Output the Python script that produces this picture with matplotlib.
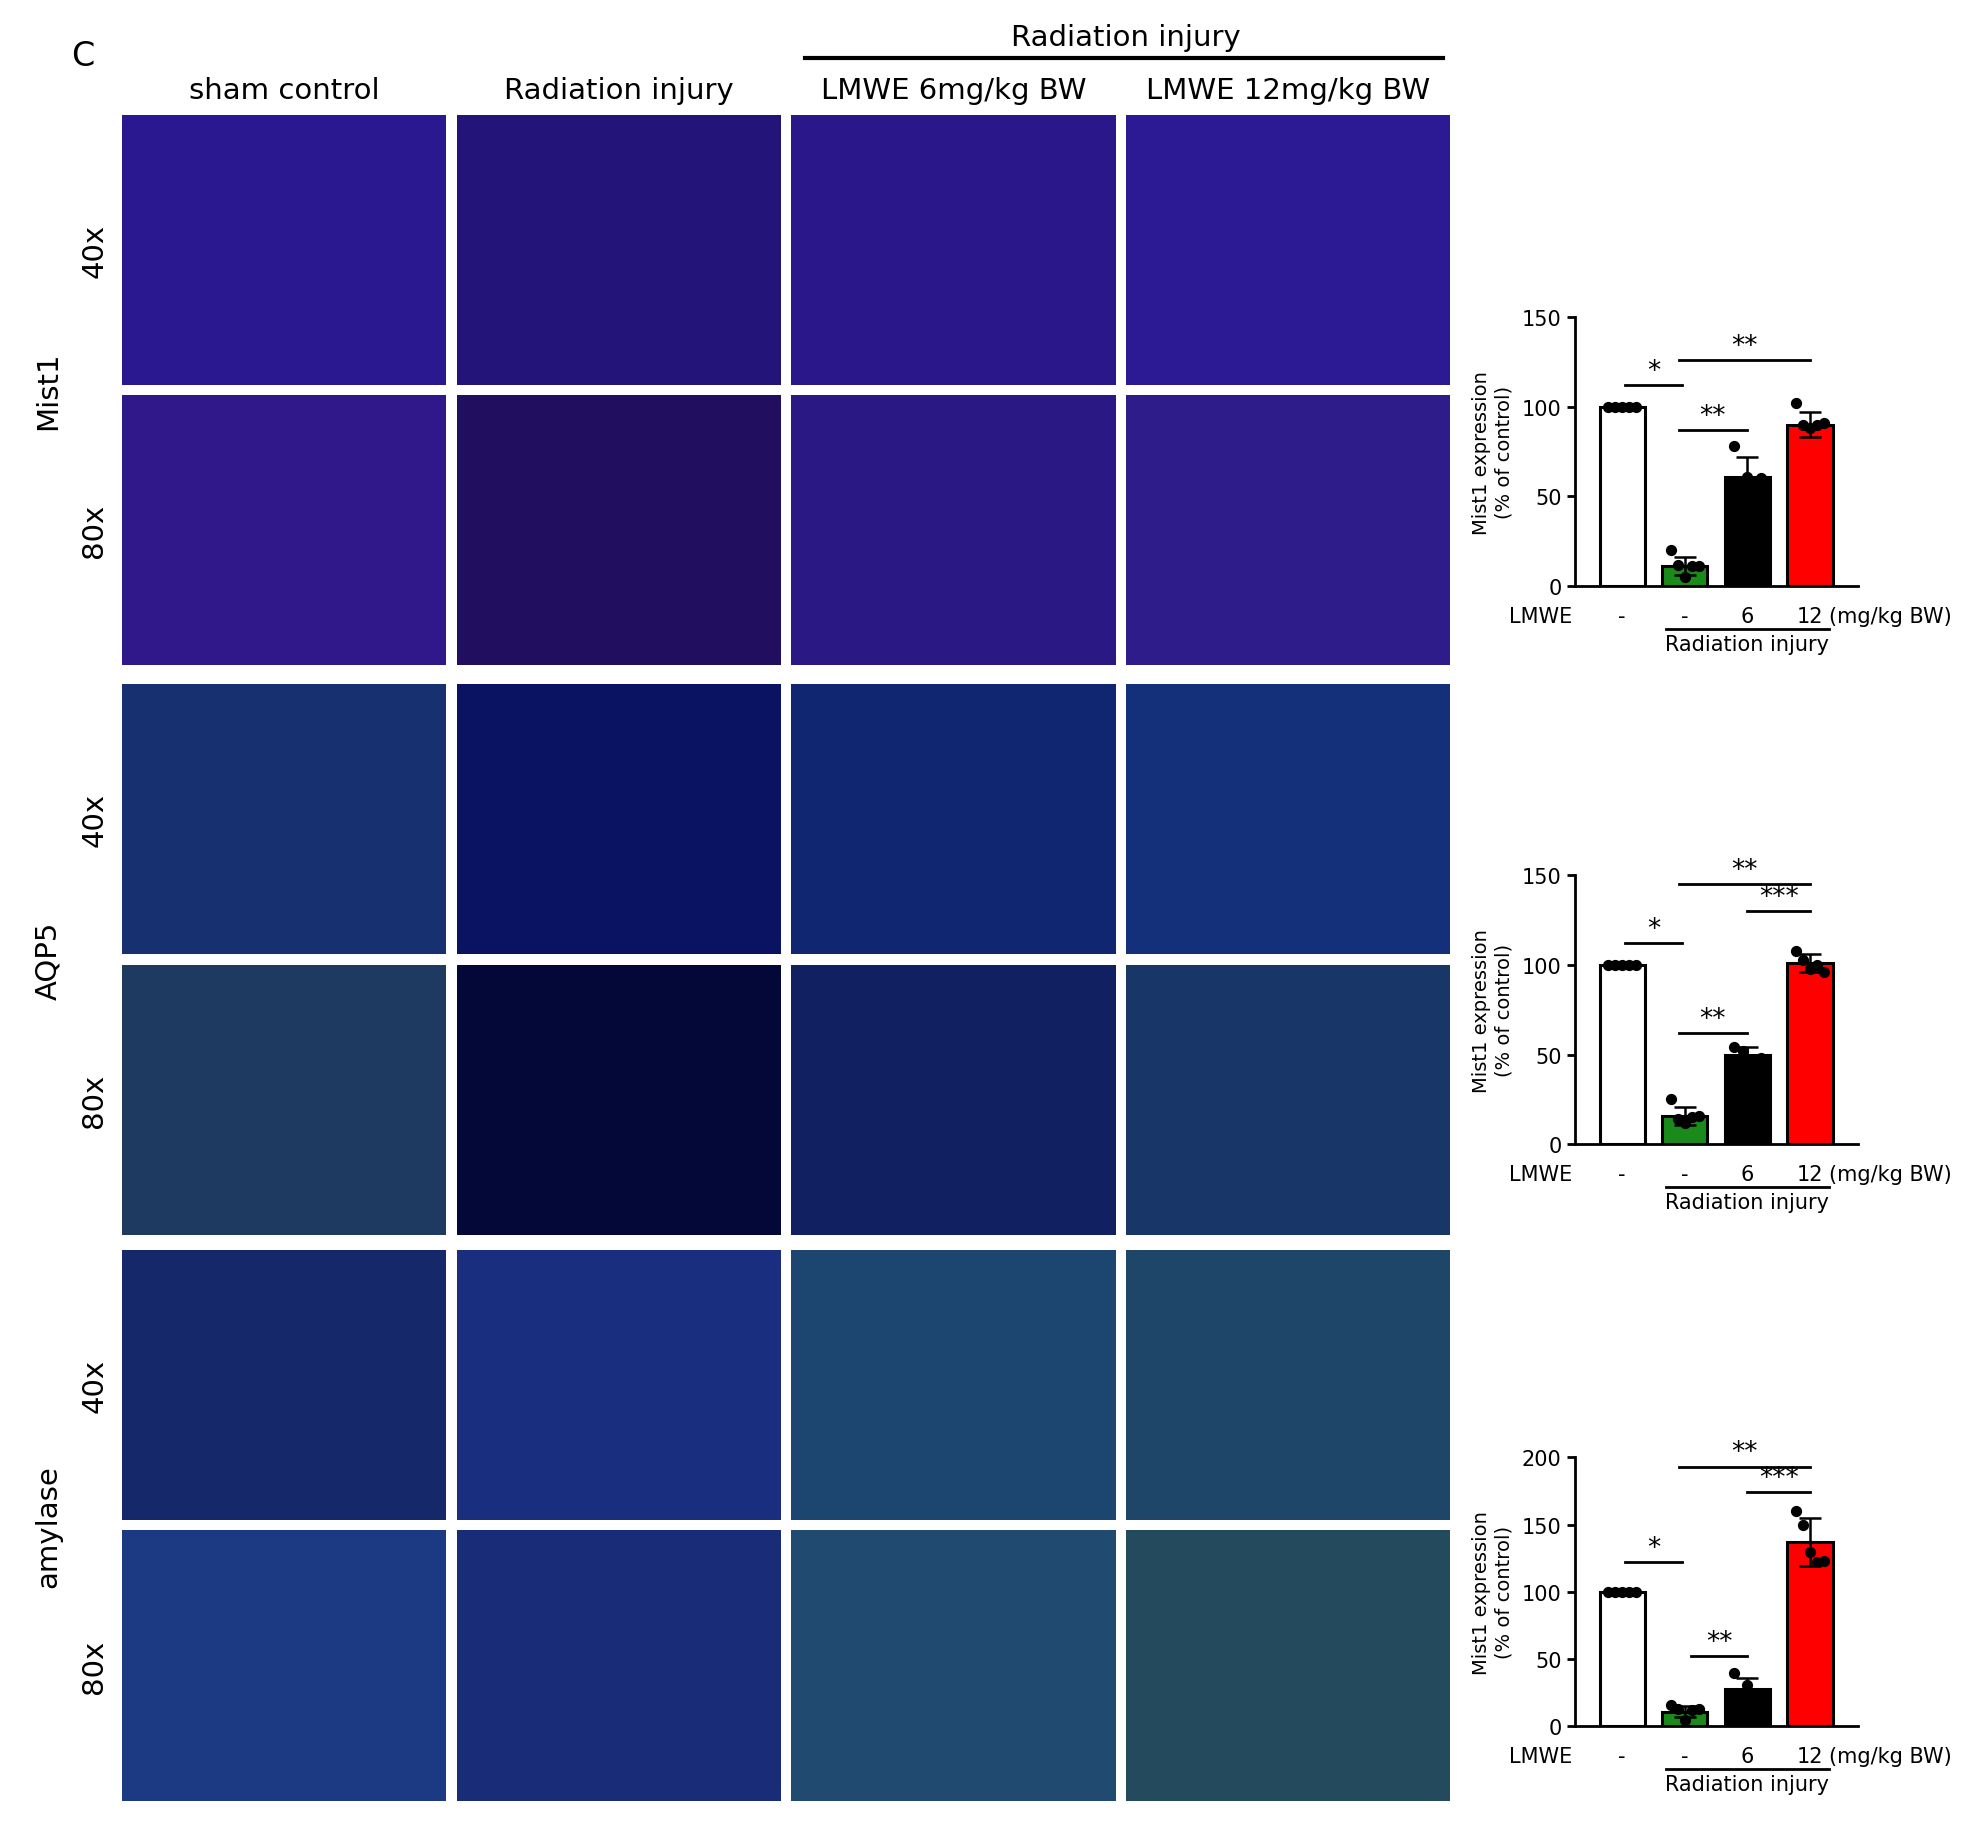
import matplotlib
matplotlib.use("Agg")
import matplotlib.pyplot as plt

W, H = 1568, 1458  # layout reference units
col_titles = ["sham control", "Radiation injury", "LMWE 6mg/kg BW", "LMWE 12mg/kg BW"]
markers = ["Mist1", "AQP5", "amylase"]
mags = ["40x", "80x"]
panel_colors = {
    "Mist1": [["#2a1890", "#221478", "#2a188a", "#2c1a94"], ["#30188a", "#220e5e", "#2a1884", "#2e1c8a"]],
    "AQP5": [["#163070", "#0a1262", "#102670", "#14307a"], ["#1e3a60", "#040838", "#102060", "#183668"]],
    "amylase": [["#14286a", "#1a2e80", "#1c4670", "#1e4668"], ["#1c3a84", "#182c78", "#204a70", "#244a5e"]],
}
cats = ["-", "-", "6", "12"]
bar_colors = ["white", "#1a8a1a", "black", "#ff0000"]
means = [[100, 11, 61, 90], [100, 16, 50, 101], [100, 11, 28, 137]]
sds = [[0, 5, 11, 7], [0, 5, 4, 5], [0, 4, 8, 18]]
points = [
    [[100, 100, 100, 100, 100], [20, 12, 5, 11, 11], [78, 61, 60], [102, 90, 88, 90, 91]],
    [[100, 100, 100, 100, 100], [25, 14, 12, 15, 16], [54, 52, 47, 48], [108, 103, 98, 100, 96]],
    [[100, 100, 100, 100, 100], [16, 13, 5, 12, 13], [40, 31, 22], [160, 150, 130, 122, 123]],
]
ymax = [150, 150, 200]
ticks = [[0, 50, 100, 150], [0, 50, 100, 150], [0, 50, 100, 150, 200]]
sig = [
    [(0.05, 0.95, 112, "*"), (0.9, 3.0, 126, "**"), (0.9, 2.0, 87, "**")],
    [(0.05, 0.95, 112, "*"), (0.9, 3.0, 145, "**"), (2.0, 3.0, 130, "***"), (0.9, 2.0, 62, "**")],
    [(0.05, 0.95, 122, "*"), (0.9, 3.0, 193, "**"), (2.0, 3.0, 174, "***"), (1.1, 2.0, 52, "**")],
]

fig = plt.figure(figsize=(19.72, 18.33), dpi=100)
fig.patch.set_facecolor("white")

def fx(x): return x / W
def fy(y): return 1 - y / H

col_x = [97, 363, 629, 895]
pw = 258
row_y = [92, 315, 545, 768, 995, 1218]
ph = 215
for r, m in enumerate(markers):
    for k in range(2):
        y0 = row_y[2 * r + k]
        for c in range(4):
            ax = fig.add_axes([fx(col_x[c]), fy(y0 + ph), pw / W, ph / H])
            ax.set_facecolor(panel_colors[m][k][c])
            ax.set_xticks([]); ax.set_yticks([])
            for s in ax.spines.values():
                s.set_visible(False)
        fig.text(fx(75), fy(y0 + ph / 2), mags[k], rotation=90, ha="center", va="center", fontsize=21)
    fig.text(fx(38), fy((row_y[2 * r] + row_y[2 * r + 1] + ph) / 2), m, rotation=90,
             ha="center", va="center", fontsize=21)

for c, t in enumerate(col_titles):
    fig.text(fx(col_x[c] + pw / 2), fy(72), t, ha="center", va="center", fontsize=21)
fig.text(fx(66), fy(45), "C", ha="center", va="center", fontsize=24)
fig.text(fx(895), fy(30), "Radiation injury", ha="center", va="center", fontsize=21)
fig.add_artist(plt.Line2D([fx(640), fx(1147)], [fy(47), fy(47)], color="black", lw=3))

chart_top = [253, 697, 1160]
for i in range(3):
    ax = fig.add_axes([fx(1252), fy(chart_top[i] + 214), 225 / W, 214 / H])
    x = list(range(4))
    ax.bar(x, means[i], width=0.72, color=bar_colors, edgecolor="black", linewidth=2.2, zorder=2)
    for j in range(4):
        if sds[i][j]:
            ax.errorbar(j, means[i][j], yerr=[[sds[i][j]], [sds[i][j]]], color="black",
                        capsize=8, lw=1.8, capthick=1.8, zorder=3)
        n = len(points[i][j])
        xs = [j - 0.22 + 0.44 * q / (n - 1) for q in range(n)]
        ax.scatter(xs, points[i][j], s=50, color="black", zorder=4)
    for a, b, yv, st in sig[i]:
        ax.plot([a, b], [yv, yv], color="black", lw=2, clip_on=False)
        ax.text((a + b) / 2, yv + ymax[i] * 0.005, st, ha="center", va="bottom", fontsize=19)
    ax.set_xlim(-0.76, 3.76)
    ax.set_ylim(0, ymax[i])
    ax.set_yticks(ticks[i])
    ax.tick_params(axis="y", labelsize=15, width=2, length=6)
    ax.set_xticks([])
    ax.spines["top"].set_visible(False)
    ax.spines["right"].set_visible(False)
    ax.spines["left"].set_linewidth(2)
    ax.spines["bottom"].set_linewidth(2)
    ax.set_ylabel("Mist1 expression\n(% of control)", fontsize=14, labelpad=6)
    yl = -ymax[i] * 0.11
    ax.text(-1.3, yl, "LMWE", ha="center", va="center", fontsize=15, clip_on=False)
    for j in range(4):
        ax.text(j, yl, cats[j], ha="center", va="center", fontsize=15)
    ax.text(3.3, yl, "(mg/kg BW)", ha="left", va="center", fontsize=15)
    ax.plot([0.7, 3.3], [-ymax[i] * 0.16] * 2, color="black", lw=2, clip_on=False)
    ax.text(2.0, -ymax[i] * 0.215, "Radiation injury", ha="center", va="center", fontsize=15)

fig.savefig("out.png", dpi=100)
